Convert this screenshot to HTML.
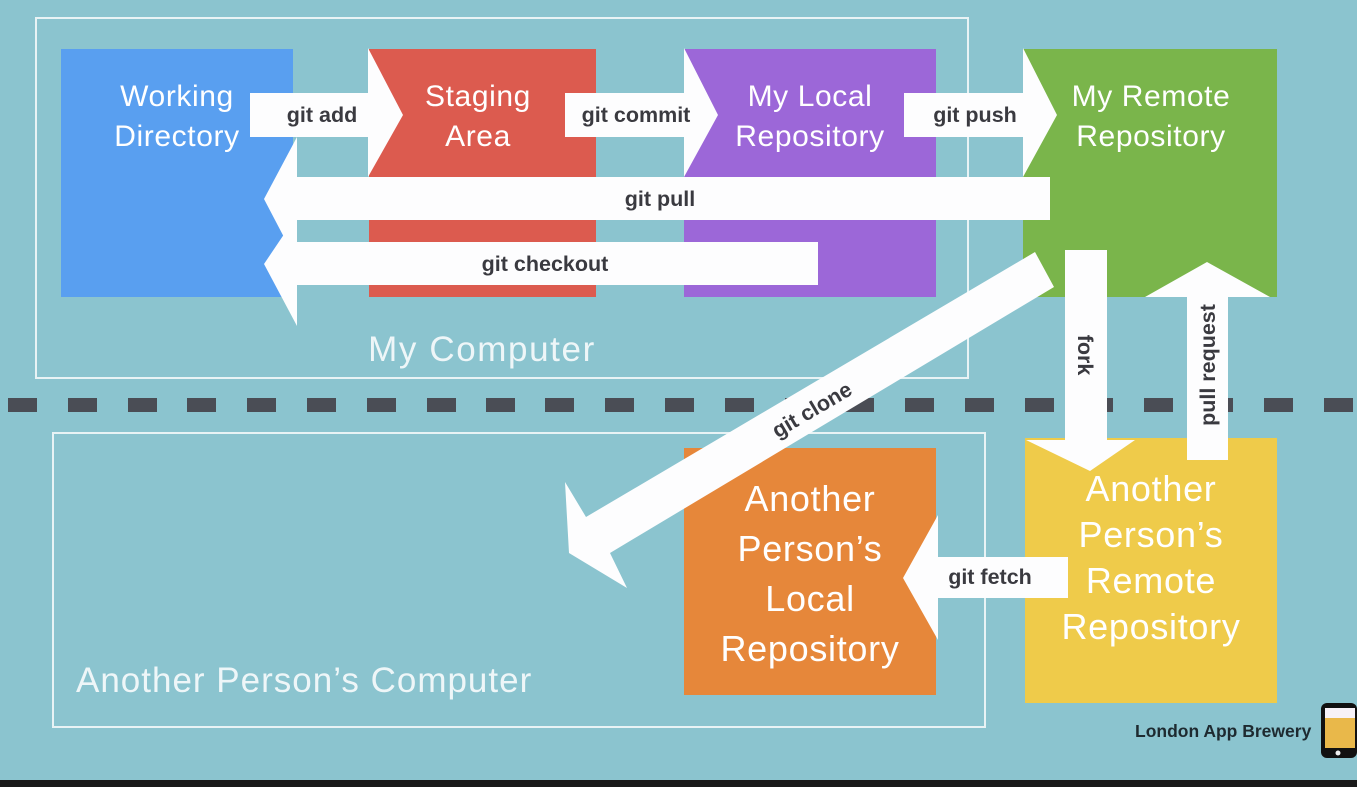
<!DOCTYPE html>
<html><head><meta charset="utf-8"><style>
html,body{margin:0;padding:0;width:1357px;height:787px;overflow:hidden;background:#8bc4cf}
svg{display:block}
.t{font-family:"Liberation Sans",sans-serif;fill:#fff;font-size:30px;text-anchor:middle;letter-spacing:0.6px}
.b{font-size:36px;letter-spacing:0.7px}
.l{font-family:"Liberation Sans",sans-serif;fill:#3a3a40;font-size:21.5px;font-weight:bold;text-anchor:middle;dominant-baseline:central}
.s{font-family:"Liberation Sans",sans-serif;fill:#eef6f8;font-size:35px;letter-spacing:1px}
</style></head><body>
<svg width="1357" height="787" viewBox="0 0 1357 787">
<rect width="1357" height="787" fill="#8bc4cf"/>
<rect x="0" y="780" width="1357" height="7" fill="#1a1a1a"/>
<rect x="36" y="18" width="932" height="360" fill="none" stroke="#e8f3f5" stroke-width="2"/>
<rect x="53" y="433" width="932" height="294" fill="none" stroke="#e8f3f5" stroke-width="2"/>
<text class="s" x="482" y="361" text-anchor="middle" style="letter-spacing:1.6px">My Computer</text>
<text class="s" x="76" y="692">Another Person’s Computer</text>
<g fill="#4a4d55">
<rect x="8" y="398" width="29" height="14"/><rect x="68" y="398" width="29" height="14"/><rect x="128" y="398" width="29" height="14"/><rect x="187" y="398" width="29" height="14"/><rect x="247" y="398" width="29" height="14"/><rect x="307" y="398" width="29" height="14"/><rect x="367" y="398" width="29" height="14"/><rect x="427" y="398" width="29" height="14"/><rect x="486" y="398" width="29" height="14"/><rect x="545" y="398" width="29" height="14"/><rect x="605" y="398" width="29" height="14"/><rect x="665" y="398" width="29" height="14"/><rect x="725" y="398" width="29" height="14"/><rect x="785" y="398" width="29" height="14"/><rect x="845" y="398" width="29" height="14"/><rect x="905" y="398" width="29" height="14"/><rect x="965" y="398" width="29" height="14"/><rect x="1025" y="398" width="29" height="14"/><rect x="1084" y="398" width="29" height="14"/><rect x="1144" y="398" width="29" height="14"/><rect x="1204" y="398" width="29" height="14"/><rect x="1264" y="398" width="29" height="14"/><rect x="1324" y="398" width="29" height="14"/>
</g>
<rect x="61" y="49" width="232" height="248" fill="#599ff0"/>
<rect x="369" y="49" width="227" height="248" fill="#dc5b4f"/>
<rect x="684" y="49" width="252" height="248" fill="#9c67d8"/>
<rect x="1023" y="49" width="254" height="248" fill="#7ab54b"/>
<rect x="684" y="448" width="252" height="247" fill="#e6873a"/>
<rect x="1025" y="438" width="252" height="265" fill="#efcb4a"/>
<text class="t" x="177" y="106">Working</text><text class="t" x="177" y="146">Directory</text>
<text class="t" x="478" y="106">Staging</text><text class="t" x="478" y="146">Area</text>
<text class="t" x="810" y="106">My Local</text><text class="t" x="810" y="146">Repository</text>
<text class="t" x="1151" y="106">My Remote</text><text class="t" x="1151" y="146">Repository</text>
<text class="t b" x="810" y="511">Another</text>
<text class="t b" x="810" y="561">Person’s</text>
<text class="t b" x="810" y="611">Local</text>
<text class="t b" x="810" y="661">Repository</text>
<text class="t b" x="1151" y="501">Another</text>
<text class="t b" x="1151" y="547">Person’s</text>
<text class="t b" x="1151" y="593">Remote</text>
<text class="t b" x="1151" y="639">Repository</text>
<g fill="#fdfdfe">
<polygon points="250,93 368,93 368,48 403,115 368,177 368,137 250,137"/>
<polygon points="565,93 684,93 684,48 718,115 684,177 684,137 565,137"/>
<polygon points="904,93 1023,93 1023,48 1057,115 1023,177 1023,137 904,137"/>
<polygon points="1050,177 297,177 297,137 264,199 297,262 297,220 1050,220"/>
<polygon points="818,242 297,242 297,215 264,264 297,326 297,285 818,285"/>
<polygon points="1065,250 1107,250 1107,440 1135,440 1090,471 1026,440 1065,440"/>
<polygon points="1187,460 1228,460 1228,297 1270,297 1207,262 1145,297 1187,297"/>
<polygon points="1068,557 938,557 938,515 903,578 938,640 938,598 1068,598"/>
<polygon points="1035,252 586,517 565,482 569,553 627,588 610,553 1054,287"/>
</g>
<text class="l" x="322" y="115">git add</text>
<text class="l" x="636" y="115">git commit</text>
<text class="l" x="975" y="115">git push</text>
<text class="l" x="660" y="199">git pull</text>
<text class="l" x="545" y="264">git checkout</text>
<text class="l" x="990" y="577">git fetch</text>
<text class="l" transform="translate(1085,355) rotate(90)">fork</text>
<text class="l" transform="translate(1208,365) rotate(-90)">pull request</text>
<text class="l" transform="translate(812,410) rotate(-30.5)">git clone</text>
<text x="1135" y="737" font-family="Liberation Sans,sans-serif" font-size="17.5" font-weight="bold" fill="#1e2a30">London App Brewery</text>
<rect x="1321" y="703" width="36" height="55" rx="6" fill="#111"/>
<rect x="1325" y="708" width="30" height="40" fill="#e9b84a"/>
<rect x="1325" y="708" width="30" height="10" fill="#f7f2f8"/>
<circle cx="1338" cy="753" r="2.5" fill="#eee"/>
</svg>
</body></html>
